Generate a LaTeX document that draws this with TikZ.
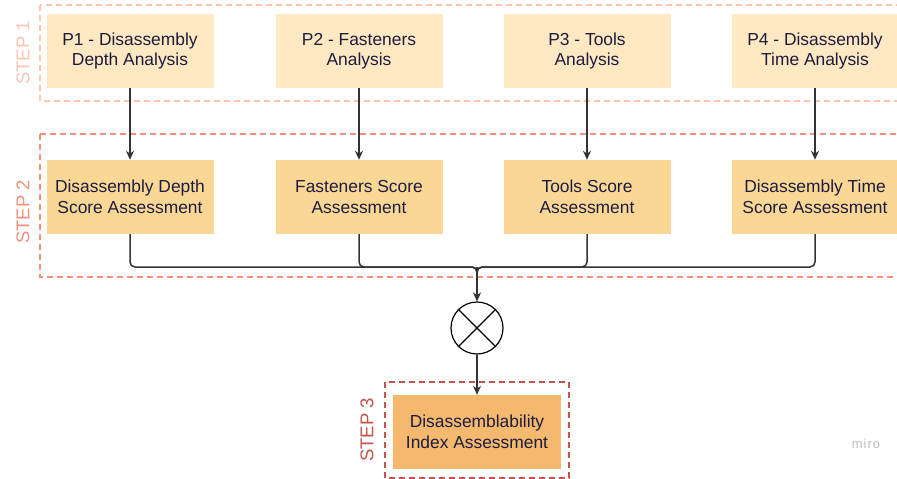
\documentclass[tikz,border=0pt]{standalone}
\usepackage{fontspec}
\setmainfont{Liberation Sans}
\usetikzlibrary{arrows.meta,calc}
\definecolor{sonecol}{HTML}{FDC4B2}
\definecolor{stwocol}{HTML}{F3907E}
\definecolor{sthreecol}{HTML}{C4534A}
\definecolor{pfill}{HTML}{FFE8C2}
\definecolor{dfill}{HTML}{FBD796}
\definecolor{sfill}{HTML}{F5B86F}
\definecolor{txt}{HTML}{1C1C3C}
\definecolor{lin}{HTML}{333333}
\definecolor{miroc}{HTML}{BCBCCA}
\tikzset{
  box/.style={minimum width=167pt, minimum height=74pt, inner sep=0pt, align=center, text=txt,
    font=\fontsize{17.4}{20.5}\selectfont},
  pbox/.style={box, fill=pfill},
  dbox/.style={box, fill=dfill},
  sbox/.style={box, fill=sfill, minimum width=168pt},
  frame/.style={dashed, dash pattern=on 6pt off 4pt, line width=1.8pt},
  steplbl/.style={rotate=90, font=\fontsize{18.5}{20}\selectfont},
  conn/.style={draw=lin, line width=1.5pt},
  arr/.style={conn, -{Stealth[length=9pt,width=8pt]}},
}
\begin{document}
\begin{tikzpicture}[x=1pt,y=-1pt]
\useasboundingbox (0,0) rectangle (897,479);
\clip (0,0) rectangle (897,479);
\fill[white] (0,0) rectangle (897,479);
% frames
\draw[frame, sonecol] (40,5) rectangle (920,101);
\draw[frame, stwocol] (40,134) rectangle (920,277);
\draw[frame, sthreecol] (385,382) rectangle (569,478);
\node[steplbl, text=sonecol] (l1) at (23,53) {STEP 1};
\node[steplbl, text=stwocol] (l2) at (23,212) {STEP 2};
\node[steplbl, text=sthreecol] (l3) at (367,430) {STEP 3};
% step 1
\node[pbox] (p1) at (130,51) {P1 - Disassembly\\Depth Analysis};
\node[pbox] (p2) at (359,51) {P2 - Fasteners\\Analysis};
\node[pbox] (p3) at (587,51) {P3 - Tools\\Analysis};
\node[pbox] (p4) at (815,51) {P4 - Disassembly\\Time Analysis};
% step 2
\node[dbox] (d1) at (130,197) {Disassembly Depth\\Score Assessment};
\node[dbox] (d2) at (359,197) {Fasteners Score\\Assessment};
\node[dbox] (d3) at (587,197) {Tools Score\\Assessment};
\node[dbox] (d4) at (815,197) {Disassembly Time\\Score Assessment};
\foreach \i in {1,2,3,4}{\draw[arr] (p\i.south) -- (d\i.north);}
% merge
\coordinate (j) at (477,267);
\node[circle, draw=black, fill=white, line width=1.2pt, minimum size=52pt, inner sep=0pt] (x) at (477,328) {};
\draw[black, line width=1.2pt] (x.45) -- (x.225) (x.135) -- (x.315);
\foreach \i in {1,2,3,4}{\draw[conn, rounded corners=5pt] (d\i.south) |- (j) -- ($(j)+(0,12)$);}
\draw[arr] (j) -- (x.north);
% step 3
\node[sbox] (s3) at (477,432) {Disassemblability\\Index Assessment};
\draw[arr] (x.south) -- (s3.north);
% watermark
\node[text=miroc, font=\fontsize{13}{14}\selectfont\addfontfeature{LetterSpace=8}] (miro) at (866,444) {miro};
\end{tikzpicture}
\end{document}
